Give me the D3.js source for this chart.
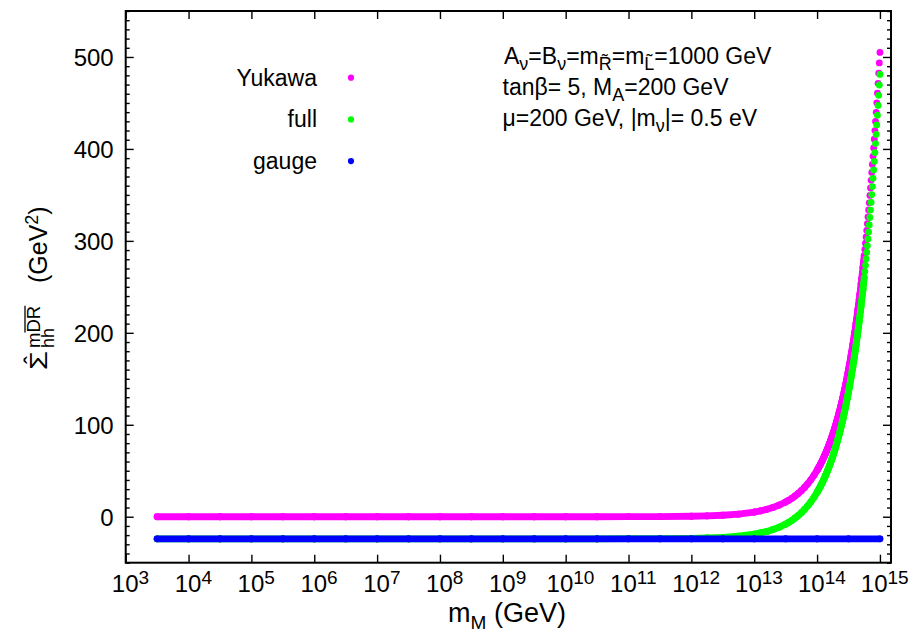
<!DOCTYPE html>
<html>
<head>
<meta charset="utf-8">
<script src="https://cdnjs.cloudflare.com/ajax/libs/d3/7.8.5/d3.min.js"></script>
<style>
    body { margin: 0; background: #fff; }
    text { font-family: "Liberation Sans", Arial, Helvetica, sans-serif; fill: #000; }
</style>
</head>
<body>
<div id="chart"></div>
<script>

// ---- data (x given as log10 of m_M in GeV) ----
const seriesNames = ["Yukawa", "full", "gauge"];
const seriesColors = ["#ff00ff", "#00ff00", "#0000ff"];

const curveExp = [3.5, 4, 4.5, 5, 5.5, 6, 6.5, 7, 7.5, 8, 8.5, 9, 9.5, 10, 10.5, 11, 11.5, 12,
    12.25, 12.5, 12.75, 13, 13.1, 13.2, 13.3, 13.4, 13.5,
    13.55, 13.6, 13.65, 13.7, 13.75, 13.8, 13.85, 13.9, 13.95, 14,
    14.01, 14.02, 14.03, 14.04, 14.05, 14.06, 14.07, 14.08, 14.09, 14.1,
    14.11, 14.12, 14.13, 14.14, 14.15, 14.16, 14.17, 14.18, 14.19, 14.2,
    14.21, 14.22, 14.23, 14.24, 14.25, 14.26, 14.27, 14.28, 14.29, 14.3,
    14.31, 14.32, 14.33, 14.34, 14.35, 14.36, 14.37, 14.38, 14.39, 14.4,
    14.41, 14.42, 14.43, 14.44, 14.45, 14.46, 14.47, 14.48, 14.49, 14.5,
    14.51, 14.52, 14.53, 14.54, 14.55, 14.56, 14.57, 14.58, 14.59, 14.6,
    14.61, 14.62, 14.63, 14.64, 14.65, 14.66, 14.67, 14.68, 14.69, 14.7,
    14.71, 14.72, 14.73, 14.74, 14.75, 14.76, 14.77, 14.78, 14.79, 14.8,
    14.81, 14.82, 14.83, 14.84, 14.85, 14.86, 14.87, 14.88, 14.89, 14.9,
    14.91, 14.92, 14.93, 14.94, 14.95, 14.96, 14.97, 14.98, 14.99, 15];

const yukawaVals = [0, 0, 0, 0, 0, 0, 0, 0, 0, 0, 0, 0, 0, 0, 0, 0.1, 0.2, 0.5,
    0.9, 1.6, 2.8, 5.1, 6.4, 8.0, 10.1, 12.7, 16.0,
    17.9, 20.1, 22.6, 25.3, 28.4, 31.9, 35.8, 40.1, 45.0, 50.5,
    51.7, 52.9, 54.1, 55.4, 56.7, 58.0, 59.3, 60.7, 62.1, 63.6,
    65.1, 66.6, 68.1, 69.7, 71.3, 73.0, 74.7, 76.4, 78.2, 80.0,
    81.9, 83.8, 85.8, 87.8, 89.8, 91.9, 94.0, 96.2, 98.5, 100.8,
    103.1, 105.5, 108.0, 110.5, 113.1, 115.7, 118.4, 121.1, 124.0, 126.8,
    129.8, 132.8, 135.9, 139.1, 142.3, 145.6, 149.0, 152.5, 156.1, 159.7,
    163.4, 167.2, 171.1, 175.1, 179.2, 183.4, 187.6, 192.0, 196.5, 201.0,
    205.7, 210.5, 215.4, 220.4, 225.6, 230.8, 236.2, 241.7, 247.3, 253.1,
    259.0, 265.0, 271.2, 277.5, 284.0, 290.6, 297.4, 304.3, 311.4, 318.6,
    326.1, 333.6, 341.4, 349.4, 357.5, 365.8, 374.4, 383.1, 392.0, 401.1,
    410.5, 420.0, 429.8, 439.8, 450.1, 460.6, 471.3, 482.3, 493.5, 505.0];

const fullVals = [-24, -24, -24, -24, -24, -24, -24, -24, -24, -24, -24, -24, -24, -24, -24, -23.9, -23.8, -23.5,
    -23.1, -22.4, -21.2, -18.9, -17.6, -16.0, -13.9, -11.3, -8.0,
    -6.1, -3.9, -1.4, 1.3, 4.4, 7.9, 11.8, 16.1, 21.0, 26.5,
    27.7, 28.9, 30.1, 31.4, 32.7, 34.0, 35.3, 36.7, 38.1, 39.6,
    41.1, 42.6, 44.1, 45.7, 47.3, 49.0, 50.7, 52.4, 54.2, 56.0,
    57.9, 59.8, 61.8, 63.8, 65.8, 67.9, 70.0, 72.2, 74.5, 76.8,
    79.1, 81.5, 84.0, 86.5, 89.1, 91.7, 94.4, 97.1, 100.0, 102.8,
    105.8, 108.8, 111.9, 115.1, 118.3, 121.6, 125.0, 128.5, 132.1, 135.7,
    139.4, 143.2, 147.1, 151.1, 155.2, 159.4, 163.6, 168.0, 172.5, 177.0,
    181.7, 186.5, 191.4, 196.4, 201.6, 206.8, 212.2, 217.7, 223.3, 229.1,
    235.0, 241.0, 247.2, 253.5, 260.0, 266.6, 273.4, 280.3, 287.4, 294.6,
    302.1, 309.6, 317.4, 325.4, 333.5, 341.8, 350.4, 359.1, 368.0, 377.1,
    386.5, 396.0, 405.8, 415.8, 426.1, 436.6, 447.3, 458.3, 469.5, 481.0];

const gaugeExp = [3.5, 4, 4.5, 5, 5.5, 6, 6.5, 7, 7.5, 8, 8.5, 9, 9.5, 10, 10.5, 11, 11.5, 12,
    12.5, 13, 13.5, 14, 14.5, 15];
const gaugeVals = [-24, -24, -24, -24, -24, -24, -24, -24, -24, -24, -24, -24, -24, -24, -24,
    -24, -24, -24, -24, -24, -24, -24, -24, -24];

const xTickExp = [3, 4, 5, 6, 7, 8, 9, 10, 11, 12, 13, 14, 15];
const yTicks = [0, 100, 200, 300, 400, 500];

// ---- layout ----
const W = 913, H = 632;
const margin = {top: 11, right: 22, bottom: 69.3, left: 125.7};
const width = W - margin.left - margin.right;
const height = H - margin.top - margin.bottom;

const svg = d3.select("#chart").append("svg")
    .attr("width", W)
    .attr("height", H);

const g = svg.append("g")
    .attr("transform", "translate(" + margin.left + "," + margin.top + ")");

// Scales
const x = d3.scaleLog().domain([1e3, 1.5e15]).range([0, width]);
const y = d3.scaleLinear().domain([-50, 550]).range([height, 0]);

const xTickVals = xTickExp.map(e => Math.pow(10, e));
const yMinor = d3.range(-50, 551, 10).filter(v => v % 100 !== 0);

// Axes (gnuplot style: ticks pointing inward on all four sides)
g.append("g").attr("class", "axis")
    .attr("transform", "translate(0," + height + ")")
    .call(d3.axisBottom(x).tickValues(xTickVals).tickSize(-8).tickFormat(""));
g.append("g").attr("class", "axis")
    .call(d3.axisTop(x).tickValues(xTickVals).tickSize(-8).tickFormat(""));
g.append("g").attr("class", "axis y-axis")
    .call(d3.axisLeft(y).tickValues(yTicks).tickSize(-8).tickPadding(12).tickFormat(d3.format("d")));
g.append("g").attr("class", "axis")
    .call(d3.axisLeft(y).tickValues(yMinor).tickSize(-4).tickFormat(""));
g.append("g").attr("class", "axis")
    .attr("transform", "translate(" + width + ",0)")
    .call(d3.axisRight(y).tickValues(yTicks).tickSize(-8).tickFormat(""));
g.append("g").attr("class", "axis")
    .attr("transform", "translate(" + width + ",0)")
    .call(d3.axisRight(y).tickValues(yMinor).tickSize(-4).tickFormat(""));

g.selectAll(".axis .domain").remove();
g.selectAll(".axis line").attr("stroke", "#000").attr("stroke-width", 1.4);
g.selectAll(".y-axis text")
    .attr("font-size", "24px")
    .attr("font-family", null)
    .attr("dy", "0.35em");

// x tick labels as 10^n
g.selectAll(".xlab")
    .data(xTickExp)
    .enter()
    .append("text")
    .attr("class", "xlab")
    .attr("x", d => x(Math.pow(10, d)) + 4.8)
    .attr("y", height + 29)
    .attr("text-anchor", "middle")
    .attr("font-size", "24px")
    .each(function(d) {
        let t = d3.select(this);
        t.append("tspan").text("10");
        t.append("tspan").attr("dy", -8).attr("font-size", "19px").text(d);
    });

// Frame
g.append("rect")
    .attr("width", width)
    .attr("height", height)
    .attr("fill", "none")
    .attr("stroke", "#000")
    .attr("stroke-width", 2);

// ---- series: dots, with gaps closed where the real samples would overlap ----
function drawSeries(xs, vals, color) {
    let pts = xs.map((e, i) => [x(Math.pow(10, e)), y(vals[i])]);
    let segs = [];
    for (let i = 1; i < pts.length; i++) {
        if (Math.abs(pts[i][1] - pts[i - 1][1]) < 6) segs.push([pts[i - 1], pts[i]]);
    }
    let s = g.append("g");
    s.selectAll("line")
        .data(segs)
        .enter()
        .append("line")
        .attr("x1", d => d[0][0])
        .attr("y1", d => d[0][1])
        .attr("x2", d => d[1][0])
        .attr("y2", d => d[1][1])
        .attr("stroke", color)
        .attr("stroke-width", 6.8)
        .attr("stroke-linecap", "round");
    s.selectAll("circle")
        .data(pts)
        .enter()
        .append("circle")
        .attr("cx", d => d[0])
        .attr("cy", d => d[1])
        .attr("r", 3.4)
        .attr("fill", color);
}

drawSeries(curveExp, yukawaVals, seriesColors[0]);
drawSeries(curveExp, fullVals, seriesColors[1]);
drawSeries(gaugeExp, gaugeVals, seriesColors[2]);

// ---- legend ----
seriesNames.forEach(function(name, i) {
    svg.append("text")
        .attr("x", 317)
        .attr("y", 85.5 + i * 41.7)
        .attr("text-anchor", "end")
        .attr("font-size", "23px")
        .text(name);
    svg.append("circle")
        .attr("cx", 351)
        .attr("cy", 77.7 + i * 41.7)
        .attr("r", 3.1)
        .attr("fill", seriesColors[i]);
});

// ---- annotation ----
const noteLines = [
    [["A", ""], ["\u03bd", "sub"], ["=B", ""], ["\u03bd", "sub"], ["=m", ""], ["R\u0303", "sub"], ["=m", ""], ["L\u0303", "sub"], ["=1000 GeV", ""]],
    [["tan\u03b2= 5, M", ""], ["A", "sub"], ["=200 GeV", ""]],
    [["\u03bc=200 GeV, |m", ""], ["\u03bd", "sub"], ["|= 0.5 eV", ""]]
];
noteLines.forEach(function(parts, i) {
    let t = svg.append("text")
        .attr("x", i === 0 ? 504 : 502.5)
        .attr("y", 63.5 + i * 31)
        .attr("font-size", "23px");
    let shifted = false;
    parts.forEach(function(p) {
        let ts = t.append("tspan").text(p[0]);
        if (p[1] === "sub") {
            ts.attr("font-size", "18px").attr("dy", 6);
            shifted = true;
        } else if (shifted) {
            ts.attr("dy", -6);
            shifted = false;
        }
    });
});

// ---- x axis label ----
let xl = svg.append("text")
    .attr("x", 507)
    .attr("y", 621.5)
    .attr("text-anchor", "middle")
    .attr("font-size", "27px");
xl.append("tspan").text("m");
xl.append("tspan").attr("font-size", "19px").attr("dy", 7).text("M");
xl.append("tspan").attr("dy", -7).text(" (GeV)");

// ---- y axis label ----
let yl = svg.append("g")
    .attr("transform", "translate(47,370) rotate(-90)");
yl.append("text")
    .attr("font-size", "24px")
    .attr("textLength", 19)
    .attr("lengthAdjust", "spacingAndGlyphs")
    .text("\u03a3");
yl.append("text")
    .attr("x", 10)
    .attr("y", -6)
    .attr("text-anchor", "middle")
    .attr("font-size", "24px")
    .text("\u02c6");
const subX = 22;
yl.append("text")
    .attr("x", subX)
    .attr("y", 7)
    .attr("font-size", "18px")
    .text("hh");
let sup = yl.append("text")
    .attr("x", subX)
    .attr("y", -7)
    .attr("font-size", "18.5px");
sup.append("tspan").text("m");
let drSpan = sup.append("tspan").text("DR");
let wM = sup.node().getSubStringLength(0, 1);
let wDR = drSpan.node().getComputedTextLength();
yl.append("line")
    .attr("x1", subX + wM)
    .attr("x2", subX + wM + wDR)
    .attr("y1", -22)
    .attr("y2", -22)
    .attr("stroke", "#000")
    .attr("stroke-width", 1.3);
let unit = yl.append("text")
    .attr("x", 87)
    .attr("font-size", "25px");
unit.append("tspan").text("(GeV");
unit.append("tspan").attr("dy", -9).attr("font-size", "18px").text("2");
unit.append("tspan").attr("dy", 9).text(")");

</script>
</body>
</html>
